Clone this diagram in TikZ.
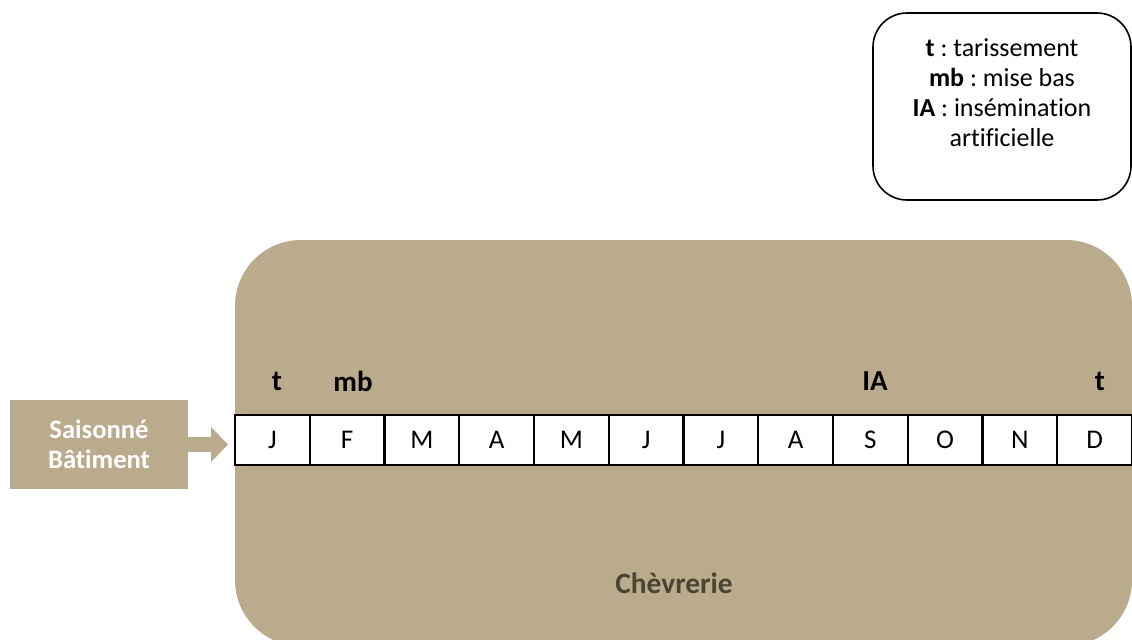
\documentclass[tikz,border=0pt]{standalone}
\usepackage{fontspec}
\setmainfont[Ligatures=NoCommon]{Carlito}
\usetikzlibrary{arrows.meta,positioning}
\definecolor{stable}{HTML}{B9AB8B}
\definecolor{stabletext}{HTML}{4A4433}
\frenchspacing

\begin{document}
\begin{tikzpicture}[x=0.5pt, y=-0.5pt,
    month/.style ={rectangle, draw=black, line width=1pt, fill=white, minimum width=37.375pt, minimum height=25pt, inner sep=0pt, font=\fontsize{13.5}{15}\selectfont},
    event/.style ={font=\fontsize{14.5}{16}\selectfont\bfseries},
    legendbox/.style ={rectangle, draw=black, line width=0.8pt, rounded corners=17pt, minimum width=129pt, minimum height=93.5pt}]
   \useasboundingbox (0,0) rectangle (1132,639);
   % building
   \fill[stable, rounded corners=33pt] (235,240) rectangle (1132,646);
   \node[font=\fontsize{14.7}{17}\selectfont\bfseries, text=stabletext] (chevrerie) at (674,583) {Chèvrerie};
   % months
   \node[month] (m1)  at (272.4,440)  {J};
   \node[month] (m2)  at (347.1,440)  {F};
   \node[month] (m3)  at (421.9,440)  {M};
   \node[month] (m4)  at (496.6,440)  {A};
   \node[month] (m5)  at (571.4,440)  {M};
   \node[month] (m6)  at (646.1,440)  {J};
   \node[month] (m7)  at (720.9,440)  {J};
   \node[month] (m8)  at (795.6,440)  {A};
   \node[month] (m9)  at (870.4,440)  {S};
   \node[month] (m10) at (945.1,440)  {O};
   \node[month] (m11) at (1019.9,440) {N};
   \node[month] (m12) at (1094.6,440) {D};
   % events
   \node[event] (t1) at (277,381)  {t};
   \node[event] (mb) at (353,381)  {mb};
   \node[event] (ia) at (875,381)  {IA};
   \node[event] (t2) at (1100,381) {t};
   % system
   \node[rectangle, fill=stable, minimum width=89pt, minimum height=44.5pt, align=center, text=white,
         font=\fontsize{13.3}{15}\selectfont\bfseries] (sais) at (99,444.5) {Saisonné\\Bâtiment};
   \draw[stable, line width=7.5pt, -{Triangle[length=8.5pt, width=17pt]}, shorten >=3pt] (sais.east) -- (sais.east -| m1.west);
   % legend
   \node[legendbox] (legend) at (1002,106.5) {};
   \node[align=center, font=\fontsize{13}{15}\selectfont] (legtext) at (1002,93)
      {\textbf{t} : tarissement\\ \textbf{mb} : mise bas\\ \textbf{IA} : insémination\\ artificielle};
 \end{tikzpicture}
\end{document}
